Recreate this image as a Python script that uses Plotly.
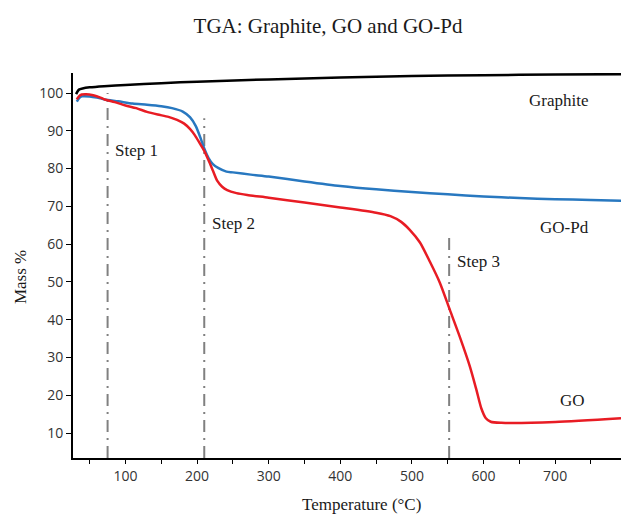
import plotly.graph_objects as go

# ---- data ----
graphite_T = [31, 33, 35, 40, 50, 70, 100, 150, 200, 300, 400, 500, 600, 700, 792]
graphite_m = [99.7, 100.4, 100.9, 101.2, 101.5, 101.8, 102.1, 102.6, 103.0, 103.6, 104.1, 104.5, 104.7, 104.9, 105.0]

gopd_T = [32, 35, 39, 50, 60, 71, 90, 110, 130, 150, 165, 180, 190, 198, 205, 210, 216, 222, 230, 241,
          250, 275, 300, 350, 400, 450, 500, 550, 600, 650, 700, 750, 792]
gopd_m = [97.7, 98.6, 99.1, 99.1, 98.8, 98.3, 97.8, 97.2, 96.9, 96.5, 96.0, 95.1, 93.6, 91.3, 88.0, 85.3, 82.8, 81.2, 80.1, 79.2,
          79.0, 78.4, 77.9, 76.6, 75.4, 74.5, 73.8, 73.2, 72.6, 72.2, 71.9, 71.7, 71.5]

go_T = [32, 35, 39, 45, 55, 65, 71, 85, 100, 115, 130, 145, 160, 172, 182, 190, 197, 204, 210, 216, 222, 228, 235, 242,
        255, 270, 300, 350, 400, 450, 470, 485, 497, 511, 525, 539, 553, 567, 581, 590, 597, 603, 610, 625, 700, 792]
go_m = [98.3, 99.1, 99.6, 99.7, 99.4, 98.8, 98.3, 97.6, 96.7, 96.0, 95.0, 94.3, 93.7, 92.9, 91.9, 90.5, 88.8, 86.6, 84.7, 82.2, 79.5, 76.8, 75.2, 74.3,
        73.5, 73.0, 72.3, 71.0, 69.7, 68.3, 67.4, 65.9, 63.8, 60.5, 55.4, 49.8, 42.6, 35.4, 27.6, 21.5, 16.5, 14.0, 13.0, 12.7, 12.9, 13.9]

step_T = [75, 210, 552]
step_top = [100.0, 93.3, 62.0]
step_names = ["Step 1", "Step 2", "Step 3"]

series_names = ["Graphite", "GO-Pd", "GO"]

x_ticks = [100, 200, 300, 400, 500, 600, 700]
y_ticks = [10, 20, 30, 40, 50, 60, 70, 80, 90, 100]

Y_MIN, Y_MAX = 3.4, 105.3
X_MIN, X_MAX = 26.7, 792

SERIF = "Liberation Serif"
SANS = "Open Sans"

fig = go.Figure()

# step lines
for t, top in zip(step_T, step_top):
    fig.add_trace(go.Scatter(x=[t, t], y=[Y_MIN, top], mode="lines",
                             line=dict(color="#808080", width=2, dash="12px,6px,2px,6px"),
                             showlegend=False, hoverinfo="skip"))

fig.add_trace(go.Scatter(x=gopd_T, y=gopd_m, mode="lines", name=series_names[1],
                         line=dict(color="#2878c0", width=2.5, shape="spline", smoothing=0.7)))
fig.add_trace(go.Scatter(x=go_T, y=go_m, mode="lines", name=series_names[2],
                         line=dict(color="#e81c24", width=2.5, shape="spline", smoothing=0.7)))
fig.add_trace(go.Scatter(x=graphite_T, y=graphite_m, mode="lines", name=series_names[0],
                         line=dict(color="#000000", width=2.5, shape="spline", smoothing=0.7)))

ann_font = dict(family=SERIF, size=17, color="#1a1a1a")
# step labels
step_pos = [(82.5, 84.9), (218, 65.6), (560, 55.3)]
for name, (x, y) in zip(step_names, step_pos):
    fig.add_annotation(x=x, y=y, text=name, showarrow=False, xanchor="left", yanchor="middle", font=ann_font)

# series labels
lbl_pos = [(705, 98.1), (713, 64.5), (724.5, 18.7)]
for name, (x, y) in zip(series_names, lbl_pos):
    fig.add_annotation(x=x, y=y, text=name, showarrow=False, xanchor="center", yanchor="middle", font=ann_font)

# axis titles
fig.add_annotation(xref="paper", yref="paper", x=0.527, y=-0.122, text="Temperature (°C)",
                   showarrow=False, xanchor="center", yanchor="middle", font=ann_font)
fig.add_annotation(xref="paper", yref="paper", x=-0.0967, y=0.47, text="Mass %", textangle=-90,
                   showarrow=False, xanchor="center", yanchor="middle", font=ann_font)

fig.update_layout(
    width=621, height=519,
    margin=dict(l=73, r=0, t=73, b=61),
    paper_bgcolor="white", plot_bgcolor="white",
    showlegend=False,
    title=dict(text="TGA: Graphite, GO and GO-Pd", x=328 / 621, xanchor="center",
               y=1 - 26 / 519, yanchor="middle", font=dict(family=SERIF, size=21, color="#1a1a1a")),
    xaxis=dict(range=[X_MIN, X_MAX], showgrid=False, zeroline=False,
               showline=True, linecolor="black", linewidth=2,
               tickmode="array", tickvals=x_ticks, ticks="outside", ticklen=4, tickcolor="black",
               minor=dict(tickmode="linear", tick0=0, dtick=50, ticks="outside", ticklen=4, tickcolor="black"),
               tickfont=dict(family=SANS, size=14, color="#333333")),
    yaxis=dict(range=[Y_MIN, Y_MAX], showgrid=False, zeroline=False,
               showline=True, linecolor="black", linewidth=2,
               tickmode="array", tickvals=y_ticks, ticks="outside", ticklen=5, tickcolor="black",
               tickfont=dict(family=SANS, size=14, color="#333333")),
)

fig.write_html("out.html")
